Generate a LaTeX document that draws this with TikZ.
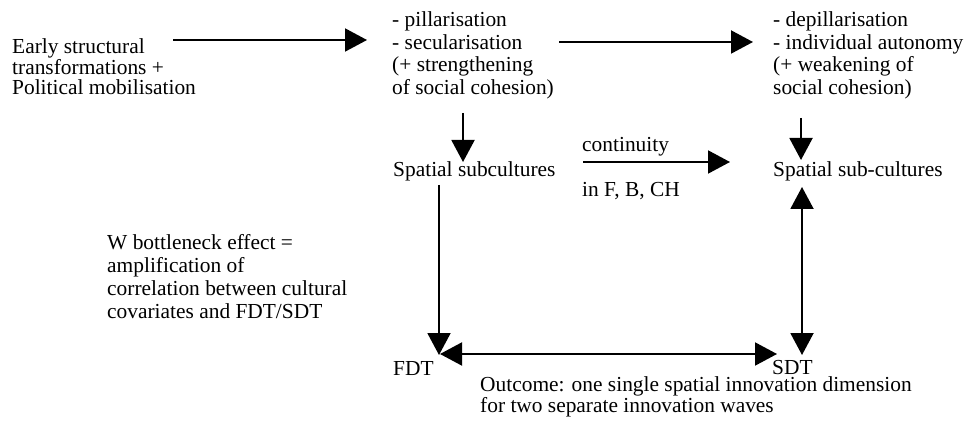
\documentclass[tikz,border=0pt]{standalone}
\usepackage{fontspec}
\setmainfont{Liberation Serif}
\usetikzlibrary{arrows.meta}
\begin{document}
\begin{tikzpicture}[x=1pt,y=-1pt,
  txt/.style={inner sep=0pt, anchor=base west, align=left, font=\fontsize{21.4}{22.5}\selectfont},
  arr/.style={line width=2pt, -{Triangle[length=22pt,width=23pt]}},
  darr/.style={line width=2pt, {Triangle[length=22pt,width=23pt]}-{Triangle[length=22pt,width=23pt]}},
  plain/.style={line width=2pt}]
\useasboundingbox (0,0) rectangle (965,427);
% texts (multi-line nodes: base = last line's baseline)
\node[txt, font=\fontsize{21.4}{20.5}\selectfont] (early) at (12,95) {Early structural\\transformations +\\Political mobilisation};
\node[txt] (pill) at (392,94.5) {- pillarisation\\- secularisation\\(+ strengthening\\of social cohesion)};
\node[txt] (depill) at (773,94.5) {- depillarisation\\- individual autonomy\\(+ weakening of\\social cohesion)};
\node[txt] (sub1) at (393,177) {Spatial subcultures};
\node[txt] (sub2) at (773,177) {Spatial sub-cultures};
\node[txt] (cont) at (582,152) {continuity};
\node[txt] (inf) at (582,197) {in F, B, CH};
\node[txt, font=\fontsize{21.4}{22.7}\selectfont] (wb) at (107,318) {W bottleneck effect =\\amplification of\\correlation between cultural\\covariates and FDT/SDT};
\node[txt] (fdt) at (393,375) {FDT};
\node[txt] (sdt) at (772,374) {SDT};
\node[txt, font=\fontsize{21.4}{19.5}\selectfont] (out) at (480,412.5) {Outcome: one single spatial innovation dimension\\for two separate innovation waves};
% connector end points
\coordinate (a1s) at (173,40);
\coordinate (a1e) at (367,40);
\coordinate (a2s) at (559,42);
\coordinate (a2e) at (753,42);
\coordinate (d1s) at (463,113);
\coordinate (d1e) at (463,162);
\coordinate (d2s) at (801,118);
\coordinate (d2e) at (801,160);
\coordinate (cs) at (583,162);
\coordinate (ce) at (730,162);
\coordinate (lvs) at (439,185);
\coordinate (lve) at (439,355);
\coordinate (rvs) at (802,187);
\coordinate (rve) at (802,355);
\coordinate (hs) at (440,354);
\coordinate (he) at (777,354);
% connectors
\draw[arr] (a1s) -- (a1e);
\draw[arr] (a2s) -- (a2e);
\draw[arr] (d1s) -- (d1e);
\draw[arr] (d2s) -- (d2e);
\draw[arr] (cs) -- (ce);
\draw[arr] (lvs) -- (lve);
\draw[darr] (rvs) -- (rve);
\draw[darr] (hs) -- (he);
\end{tikzpicture}
\end{document}
